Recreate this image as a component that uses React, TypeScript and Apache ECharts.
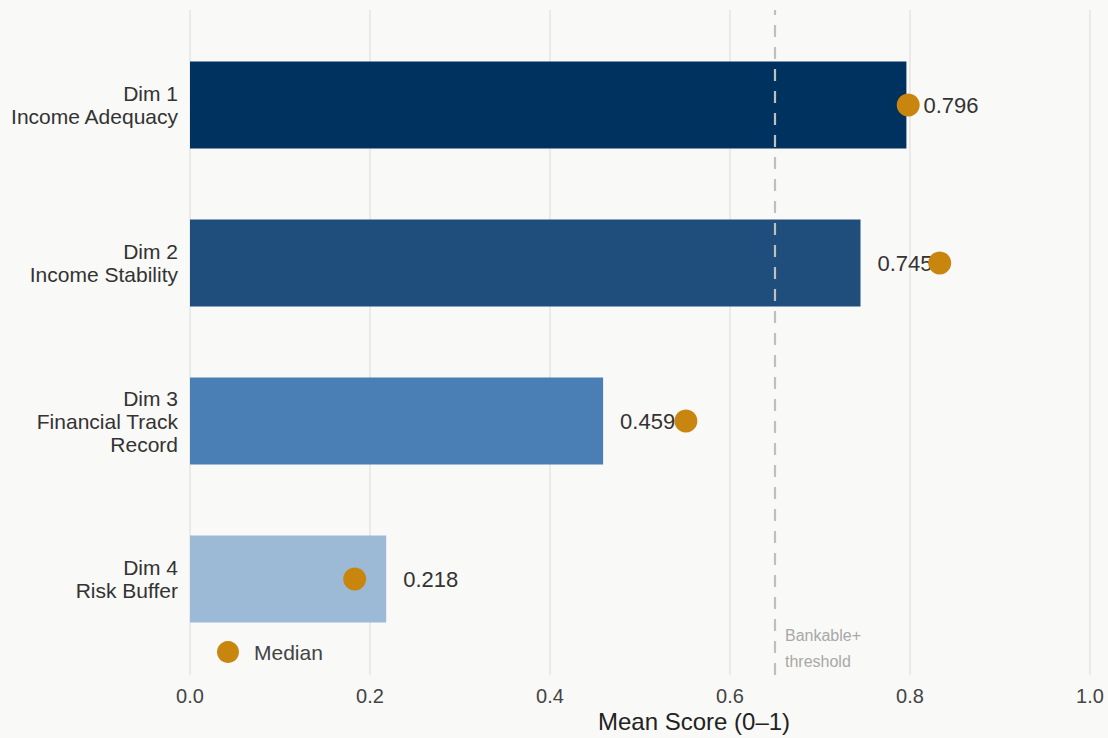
import React, { useEffect, useRef } from "react";
import * as echarts from "echarts";

const categories = ["Dim 1\nIncome Adequacy", "Dim 2\nIncome Stability", "Dim 3\nFinancial Track\nRecord", "Dim 4\nRisk Buffer"];
const meanScores = [0.796, 0.745, 0.459, 0.218];
const medianScores = [0.798, 0.833, 0.551, 0.183];
const barColors = ["#00325F", "#1F4D7C", "#4A7FB5", "#9CB9D6"];
const threshold = 0.65;

export default function App() {
  const ref = useRef<HTMLDivElement>(null);
  useEffect(() => {
    const chart = echarts.init(ref.current!, null, { renderer: "svg" });
    const font = "'Liberation Sans', Arial, sans-serif";
    chart.setOption({
      animation: false,
      backgroundColor: "#F9F9F7",
      textStyle: { fontFamily: font },
      grid: [
        { left: 190, right: 18, top: 26, height: 632 },
        { left: 190, right: 18, top: 10, height: 665 },
      ],
      xAxis: [
        { type: "value", gridIndex: 0, min: 0, max: 1, interval: 0.2, show: false, splitLine: { show: false } },
        {
          type: "value", gridIndex: 1, min: 0, max: 1, interval: 0.2,
          axisLine: { show: false }, axisTick: { show: false },
          splitLine: { show: true, lineStyle: { color: "#E4E4E4", width: 1.5 } },
          axisLabel: { fontSize: 20, color: "#444", margin: 11, formatter: (v: number) => v.toFixed(1), fontFamily: font },
        },
      ],
      yAxis: [
        {
          type: "category", gridIndex: 0, data: categories, inverse: true,
          axisLine: { show: false }, axisTick: { show: false }, splitLine: { show: false },
          axisLabel: { fontSize: 21, lineHeight: 23, color: "#333", margin: 12, align: "right", fontFamily: font },
        },
        { type: "value", gridIndex: 1, show: false, min: 0, max: 1 },
      ],
      legend: {
        data: [{ name: "Median", icon: "circle" }],
        left: 212, top: 636, itemWidth: 22, itemHeight: 22, itemGap: 8,
        textStyle: { fontSize: 21, color: "#444", fontFamily: font, padding: [0, 0, 0, 10] },
      },
      series: [
        {
          type: "line", xAxisIndex: 1, yAxisIndex: 1, data: [], silent: true,
          markLine: {
            symbol: "none", silent: true,
            lineStyle: { type: [12, 10], color: "#BFBFBF", width: 2.2 },
            label: { show: false },
            data: [{ xAxis: threshold }],
          },
        },
        {
          type: "bar", xAxisIndex: 0, yAxisIndex: 0, barWidth: 87, z: 2,
          data: meanScores.map((v, i) => ({ value: v, itemStyle: { color: barColors[i] } })),
          label: {
            show: true, position: "right", distance: 17, fontSize: 22, color: "#333",
            fontFamily: font, formatter: (p: any) => p.value.toFixed(3),
          },
        },
        {
          name: "Median", type: "scatter", xAxisIndex: 0, yAxisIndex: 0, z: 5,
          symbol: "circle", symbolSize: 23, itemStyle: { color: "#C8860F", opacity: 1 },
          data: medianScores.map((v, i) => [v, i]),
        },
      ],
      graphic: [
        { type: "text", left: 785, top: 622, style: { text: "Bankable+\nthreshold", fontSize: 16, lineHeight: 26, fill: "#A8A8A8", fontFamily: font } },
        { type: "text", left: 598, top: 709, style: { text: "Mean Score (0–1)", fontSize: 24, fill: "#222", fontFamily: font } },
      ],
    });
    return () => chart.dispose();
  }, []);
  return <div ref={ref} style={{ width: 1108, height: 738, position: "absolute", left: 0, top: 0 }} />;
}
